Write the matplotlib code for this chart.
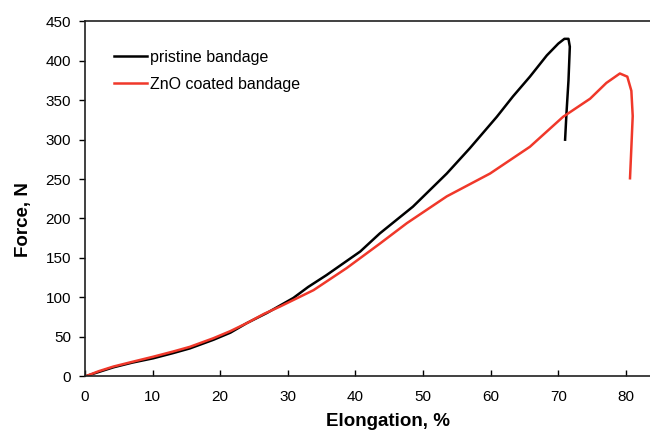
import numpy as np
import matplotlib
matplotlib.use('Agg')
import matplotlib.pyplot as plt

# Data
ElongationPristine = [0.2, 2.0, 4.2, 7.0, 10.1, 13.0, 15.5, 19.0, 21.5, 23.9, 26.9, 30.8, 33.0,
                      35.7, 40.7, 43.6, 48.5, 53.5, 56.9, 60.9, 63.3, 65.8, 68.3, 70.0,
                      70.9, 71.5, 71.7, 71.5, 71.2, 71.0]
ForcePristine = [0, 5, 11, 17, 22.5, 29, 35, 46, 55, 67, 80, 99, 113,
                 128, 158, 181, 215, 257, 289, 329, 355, 380, 407, 422,
                 428, 428, 418, 375, 333, 300]

ElongationZnO = [0.2, 2.0, 4.2, 7.0, 10.1, 13.0, 15.5, 19.0, 21.5, 23.9, 26.5, 28.8, 33.8,
                 38.7, 43.6, 47.6, 53.5, 59.9, 65.8, 70.7, 74.7, 77.1, 79.1, 80.2,
                 80.8, 81.0, 80.8, 80.6]
ForceZnO = [0, 6, 12, 18, 24.5, 31, 37, 48, 57, 67, 79, 88, 109,
            137, 168, 194, 228, 257, 291, 329, 352, 372, 384, 380,
            362, 330, 290, 251]

plt.rcParams['font.family'] = ['Liberation Sans', 'DejaVu Sans']

Figure = plt.figure(figsize=(6.5, 4.45), dpi=100)
Axes = Figure.add_axes([85/650, 69/445, 568/650, 354.5/445])

Axes.plot(ElongationPristine, ForcePristine, color=(0, 0, 0), linewidth=1.8, label='pristine bandage')
Axes.plot(ElongationZnO, ForceZnO, color='#f0382a', linewidth=1.8, label='ZnO coated bandage')

Axes.set_xlim([0, 84])
Axes.set_ylim([0, 450])
Axes.set_xticks(np.arange(0, 81, 10))
Axes.set_yticks(np.arange(0, 451, 50))
Axes.tick_params(axis='x', direction='in', length=4, width=1, pad=10, labelsize=11)
Axes.tick_params(axis='y', direction='out', length=4, width=1, pad=6, labelsize=11)
for Spine in Axes.spines.values():
    Spine.set_color('#202020')
    Spine.set_linewidth(1.2)

Axes.set_xlabel('Elongation, %', fontsize=13.5, fontweight='bold')
Axes.set_ylabel('Force, N', fontsize=13.5, fontweight='bold')
Axes.xaxis.set_label_coords(0.533, -0.105)
Axes.yaxis.set_label_coords(-0.094, 0.44)

plt.legend(loc='upper left', bbox_to_anchor=(0.025, 0.96), frameon=False, fontsize=11.5,
           handlelength=2.1, handletextpad=0.2, labelspacing=0.75)

Figure.savefig('out.png', dpi=100)
plt.close(Figure)
